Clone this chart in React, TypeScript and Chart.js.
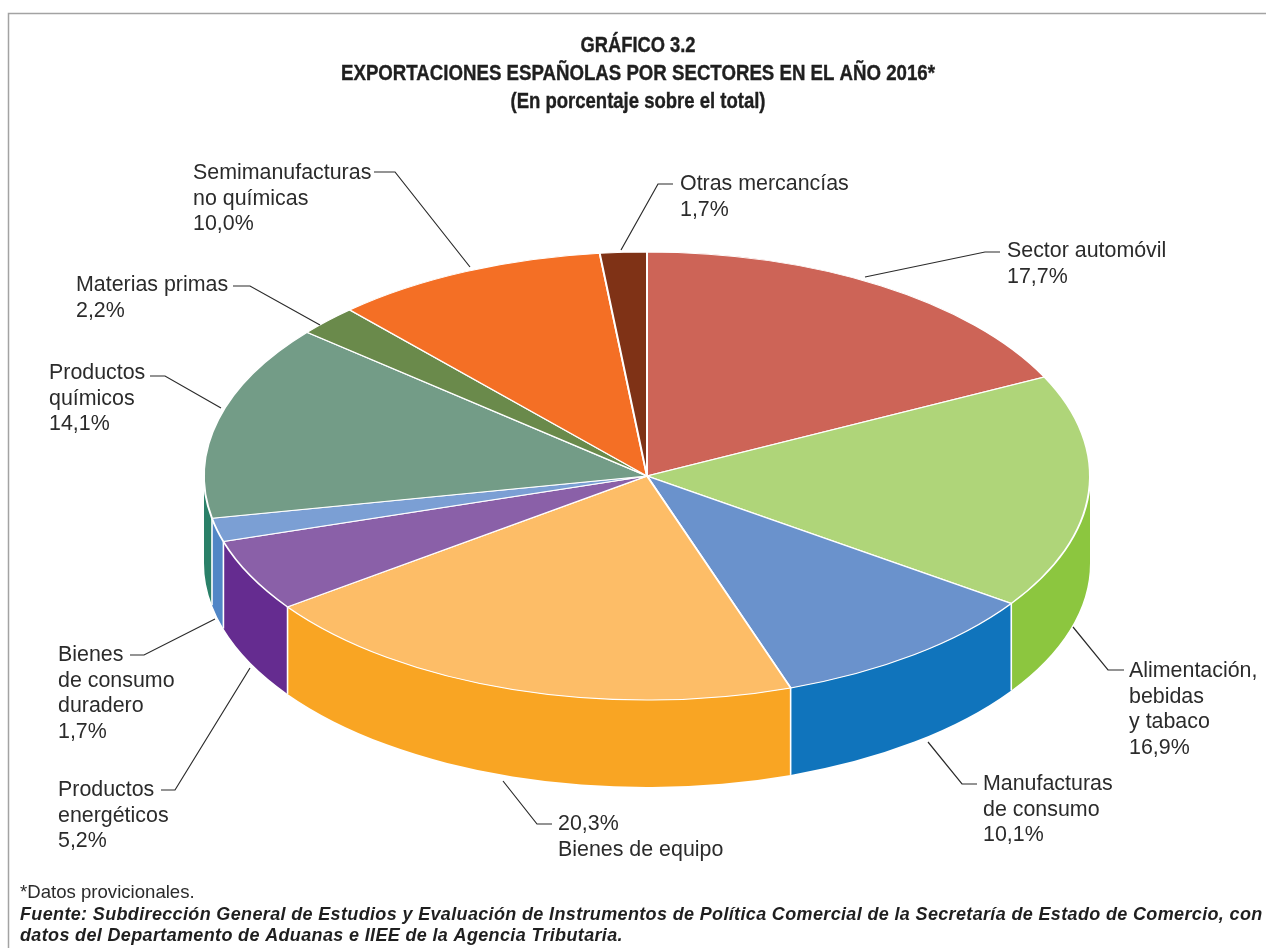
import React, { useEffect, useRef } from "react";
import { Chart, registerables } from "chart.js";

Chart.register(...registerables);

const categories = [
  "Sector automóvil",
  "Alimentación, bebidas y tabaco",
  "Manufacturas de consumo",
  "Bienes de equipo",
  "Productos energéticos",
  "Bienes de consumo duradero",
  "Productos químicos",
  "Materias primas",
  "Semimanufacturas no químicas",
  "Otras mercancías",
];
const values = [17.7, 16.9, 10.1, 20.3, 5.2, 1.7, 14.1, 2.2, 10.0, 1.7];
const topColors = ["#cd6457", "#afd579", "#6a92cc", "#fdbd67", "#8a60a8", "#7b9fd4", "#739c87", "#6a8a4b", "#f46f25", "#7f3216"];
const sideColors = ["#a84638", "#8cc63f", "#1074bc", "#f9a523", "#652c90", "#5186c6", "#2a8068", "#4c6b30", "#c9540f", "#5c230e"];
const labelLines = [
  ["Sector automóvil"],
  ["Alimentación,", "bebidas", "y tabaco"],
  ["Manufacturas", "de consumo"],
  ["Bienes de equipo"],
  ["Productos", "energéticos"],
  ["Bienes", "de consumo", "duradero"],
  ["Productos", "químicos"],
  ["Materias primas"],
  ["Semimanufacturas", "no químicas"],
  ["Otras mercancías"],
];
const valueFirst = [false, false, false, true, false, false, false, false, false, false];
const titleLines = ["GRÁFICO 3.2", "EXPORTACIONES ESPAÑOLAS POR SECTORES EN EL AÑO 2016*", "(En porcentaje sobre el total)"];
const footNote = "*Datos provicionales.";
const sourceLines = [
  "Fuente: Subdirección General de Estudios y Evaluación de Instrumentos de Política Comercial de la Secretaría de Estado de Comercio, con",
  "datos del Departamento de Aduanas e IIEE de la Agencia Tributaria.",
];

// Layout (separate from the data)
const W = 1266;
const H = 948;
const SQUASH = 224 / 443;
const DEPTH = 87;
const labelPos: [number, number][] = [
  [1007, 257], [1129, 677], [983, 790], [558, 830], [58, 796],
  [58, 661], [49, 379], [76, 291], [193, 179], [680, 190],
];
const leaders: [number, number][][] = [
  [[865, 277], [985, 252], [1000, 252]],
  [[1073, 627], [1108, 670], [1124, 670]],
  [[928, 742], [962, 784], [977, 784]],
  [[503, 781], [537, 824], [552, 824]],
  [[250, 668], [175, 790], [161, 790]],
  [[215, 619], [144, 655], [130, 655]],
  [[221, 408], [165, 376], [150, 376]],
  [[320, 325], [250, 286], [233, 286]],
  [[470, 267], [395, 172], [374, 172]],
  [[621, 250], [658, 184], [673, 184]],
];
const titleWidths = [115, 594, 255];
const titleBaselines = [52, 80, 108];

const fmt = (v: number) => v.toFixed(1).replace(".", ",") + "%";

const pie3d = {
  id: "pie3d",
  beforeDraw(chart: any) {
    const ctx = chart.ctx;
    ctx.save();
    ctx.strokeStyle = "#a3a3a3";
    ctx.lineWidth = 1.5;
    ctx.beginPath();
    ctx.moveTo(8.5, H);
    ctx.lineTo(8.5, 13.5);
    ctx.lineTo(W, 13.5);
    ctx.stroke();
    ctx.restore();
  },
  beforeDatasetsDraw(chart: any) {
    const ctx = chart.ctx;
    const arcs = chart.getDatasetMeta(0).data;
    const cx = arcs[0].x;
    const cy = arcs[0].y;
    // wall of each slice: only the part of its rim that faces the viewer
    ctx.save();
    arcs.forEach((arc: any, i: number) => {
      const a0 = Math.max(arc.startAngle, 0);
      const a1 = Math.min(arc.endAngle, Math.PI);
      if (a0 >= a1) return;
      const r = arc.outerRadius;
      ctx.beginPath();
      ctx.ellipse(cx, cy, r, r * SQUASH, 0, a0, a1);
      ctx.ellipse(cx, cy + DEPTH, r, r * SQUASH, 0, a1, a0, true);
      ctx.closePath();
      ctx.fillStyle = sideColors[i];
      ctx.fill();
    });
    // white seams on the wall at slice boundaries
    ctx.strokeStyle = "#ffffff";
    ctx.lineWidth = 1.6;
    arcs.forEach((arc: any) => {
      const s = Math.sin(arc.startAngle);
      if (s <= 0) return;
      const x = cx + arc.outerRadius * Math.cos(arc.startAngle);
      const y = cy + arc.outerRadius * SQUASH * s;
      ctx.beginPath();
      ctx.moveTo(x, y);
      ctx.lineTo(x, y + DEPTH);
      ctx.stroke();
    });
    ctx.restore();
    // squash the top face
    ctx.save();
    ctx.translate(cx, cy);
    ctx.scale(1, SQUASH);
    ctx.translate(-cx, -cy);
  },
  afterDatasetsDraw(chart: any) {
    const ctx = chart.ctx;
    ctx.restore();
    ctx.save();
    // leaders
    ctx.strokeStyle = "#2b2b2b";
    ctx.lineWidth = 1.2;
    leaders.forEach((pts) => {
      ctx.beginPath();
      pts.forEach(([x, y], j) => (j ? ctx.lineTo(x, y) : ctx.moveTo(x, y)));
      ctx.stroke();
    });
    // labels
    ctx.fillStyle = "#2b2b2b";
    ctx.textBaseline = "alphabetic";
    ctx.textAlign = "left";
    ctx.font = '21.4px "Liberation Sans"';
    const gap = 25.7;
    labelPos.forEach(([x, y], i) => {
      const pct = fmt(values[i]);
      const lines = valueFirst[i] ? [pct, ...labelLines[i]] : [...labelLines[i], pct];
      lines.forEach((t, j) => ctx.fillText(t, x, y + j * gap));
    });
    // title
    ctx.fillStyle = "#1f1f1f";
    ctx.strokeStyle = "#1f1f1f";
    ctx.lineWidth = 0.4;
    ctx.textAlign = "center";
    ctx.font = 'bold 22.6px "Liberation Sans"';
    titleLines.forEach((t, i) => {
      ctx.fillText(t, 638, titleBaselines[i], titleWidths[i]);
      ctx.strokeText(t, 638, titleBaselines[i], titleWidths[i]);
    });
    // footer
    ctx.textAlign = "left";
    ctx.fillStyle = "#2b2b2b";
    ctx.font = '18.6px "Liberation Sans"';
    ctx.fillText(footNote, 20, 898);
    ctx.fillStyle = "#1f1f1f";
    ctx.font = 'italic bold 18px "Liberation Sans"';
    (ctx as any).letterSpacing = "0.35px";
    ctx.fillText(sourceLines[0], 20, 920, 1243);
    ctx.fillText(sourceLines[1], 20, 941);
    ctx.restore();
  },
};

export default function App() {
  const ref = useRef<HTMLCanvasElement>(null);
  useEffect(() => {
    const chart = new Chart(ref.current!, {
      type: "pie",
      data: {
        labels: categories,
        datasets: [
          {
            data: values,
            backgroundColor: topColors,
            borderColor: "#ffffff",
            borderWidth: 2,
          },
        ],
      },
      options: {
        animation: false,
        responsive: false,
        layout: { padding: { left: 203, right: 175, top: 32, bottom: 28 } },
        plugins: { legend: { display: false }, tooltip: { enabled: false }, title: { display: false } },
      },
      plugins: [pie3d],
    });
    return () => chart.destroy();
  }, []);
  return (
    <div style={{ position: "absolute", left: 0, top: 0, width: W, height: H, background: "#fff" }}>
      <canvas ref={ref} width={W} height={H} style={{ display: "block" }} />
    </div>
  );
}
